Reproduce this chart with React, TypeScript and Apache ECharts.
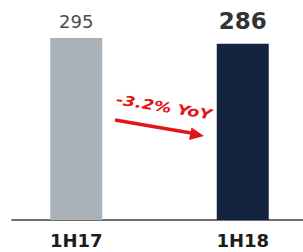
import React, { useEffect, useRef } from "react";
import * as echarts from "echarts";

const categories = ["1H17", "1H18"];
const values = [295, 286];
const barColors = ["#a9b1b9", "#14243f"];
const labelSizes = [18, 23];
const labelWeights = ["normal", "bold"];
const labelColors = ["#4d4d4d", "#333333"];
const labelDistances = [8, 11];
const annotationText = "-3.2% YoY";

export default function App() {
  const ref = useRef<HTMLDivElement>(null);
  useEffect(() => {
    if (!ref.current) return;
    const chart = echarts.init(ref.current, null, { renderer: "svg" });
    const font = "DejaVu Sans, Liberation Sans, Arial, sans-serif";
    const red = "#e3151a";
    chart.setOption({
      animation: false,
      backgroundColor: "#ffffff",
      grid: [
        { left: -7, width: 333, top: 35, bottom: 32, outerBoundsMode: "none", containLabel: false },
        { left: 12, right: 0, top: 35, bottom: 32, outerBoundsMode: "none" },
      ],
      xAxis: [
        {
          type: "category",
          gridIndex: 0,
          data: categories,
          axisLine: { show: false },
          axisTick: { show: false },
          axisLabel: {
            fontFamily: font,
            fontSize: 18,
            fontWeight: "bold",
            color: "#1c1c1c",
            margin: 11,
          },
        },
        {
          type: "value",
          gridIndex: 1,
          min: 0,
          max: 1,
          axisLine: { show: true, onZero: false, lineStyle: { color: "#404040", width: 1.5 } },
          axisTick: { show: false },
          axisLabel: { show: false },
          splitLine: { show: false },
        },
      ],
      yAxis: [
        { type: "value", gridIndex: 0, min: 0, max: 300, show: false },
        { type: "value", gridIndex: 1, min: 0, max: 1, show: false },
      ],
      series: [
        {
          type: "bar",
          xAxisIndex: 0,
          yAxisIndex: 0,
          barWidth: 52,
          data: values.map((v, i) => ({
            value: v,
            itemStyle: { color: barColors[i] },
            label: {
              show: true,
              position: "top",
              distance: labelDistances[i],
              fontFamily: font,
              fontSize: labelSizes[i],
              fontWeight: labelWeights[i],
              color: labelColors[i],
            },
          })),
        },
      ],
      graphic: [
        {
          type: "text",
          x: 164,
          y: 107,
          z: 100,
          rotation: -0.16,
          scaleX: 1.25,
          style: {
            text: annotationText,
            fontFamily: font,
            fontSize: 14,
            fontWeight: "bold",
            fontStyle: "italic",
            fill: red,
            align: "center",
            verticalAlign: "middle",
          },
        },
        {
          type: "line",
          z: 100,
          shape: { x1: 115, y1: 120, x2: 191, y2: 133 },
          style: { stroke: red, lineWidth: 3.5 },
        },
        {
          type: "polygon",
          z: 100,
          shape: {
            points: [
              [204, 136],
              [189, 140],
              [191.5, 127.5],
            ],
          },
          style: { fill: red },
        },
      ],
    });
    return () => chart.dispose();
  }, []);
  return (
    <div
      ref={ref}
      style={{ position: "absolute", left: 0, top: 0, width: 303, height: 252 }}
    />
  );
}
